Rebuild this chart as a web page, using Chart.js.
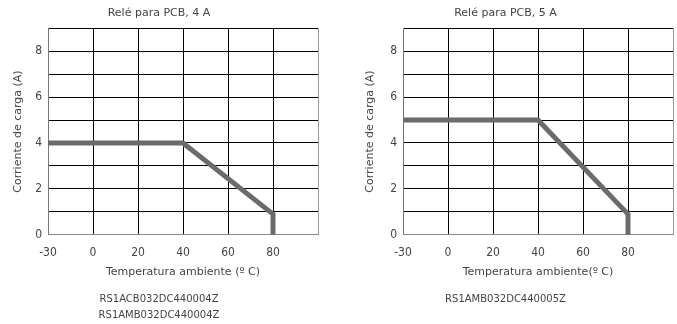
<!DOCTYPE html>
<html>
<head>
<meta charset="utf-8">
<script src="https://cdn.jsdelivr.net/npm/chart.js@4.4.1/dist/chart.umd.min.js"></script>
<style>
  html, body { margin: 0; padding: 0; background: #fff; }
  .wrap { position: absolute; top: 0; width: 338px; height: 324px; }
  #w1 { left: 0; }
  #w2 { left: 338px; width: 339px; }
</style>
</head>
<body>
<div class="wrap" id="w1"><canvas id="myChart1"></canvas></div>
<div class="wrap" id="w2"><canvas id="myChart2"></canvas></div>
<script>
// temperature categories on the x axis (last one has no label)
var tempLabels = ['-30', '0', '20', '40', '60', '80', '100'];
// derating curves: temperature (°C) and load current (A)
var curveTemp = ['-30', '40', '80', '80'];
var current4A = [4, 4, 0.9, 0];
var current5A = [5, 5, 0.9, 0];
var yTicksShown = [0, 2, 4, 6, 8];

var textColor = '#444';
var fontFam = '"DejaVu Sans", sans-serif';
var tickFam = '"DejaVu Sans Condensed", "Liberation Sans Narrow", sans-serif';

function points(ys) {
  return curveTemp.map(function (t, i) { return { x: t, y: ys[i] }; });
}

function makeChart(ctx, title, ys, xTitle, models, yWidth, padRight, yTitlePad) {
  return new Chart(ctx, {
    type: 'line',
    data: {
      labels: tempLabels,
      datasets: [{
        data: points(ys),
        borderColor: '#6b6b6b',
        borderWidth: 5,
        pointRadius: 0,
        tension: 0,
        borderCapStyle: 'butt',
        borderJoinStyle: 'miter'
      }]
    },
    options: {
      responsive: true,
      maintainAspectRatio: false,
      animation: false,
      layout: { padding: { top: 7, right: padRight, bottom: 0, left: 0 } },
      plugins: {
        legend: { display: false },
        tooltip: { enabled: false },
        title: {
          display: true,
          text: title,
          color: textColor,
          font: { family: fontFam, size: 11, weight: 'normal' },
          padding: { top: 0, bottom: 8 }
        },
        subtitle: {
          display: true,
          position: 'bottom',
          text: models,
          color: textColor,
          font: { family: fontFam, size: 10, weight: 'normal', lineHeight: 1.6 },
          padding: { top: 12, bottom: 1 }
        }
      },
      scales: {
        x: {
          type: 'category',
          offset: false,
          afterFit: function (s) { s.paddingLeft = 0; s.paddingRight = 0; },
          grid: {
            drawTicks: false,
            color: function (c) { return c.index === tempLabels.length - 1 ? '#999' : '#000'; },
            lineWidth: 1
          },
          border: { color: '#888', width: 1 },
          ticks: {
            color: textColor,
            font: { family: tickFam, size: 12, lineHeight: 1 },
            padding: 12,
            maxRotation: 0,
            autoSkip: false,
            callback: function (v, i) { return i === tempLabels.length - 1 ? '' : tempLabels[i]; }
          },
          title: {
            display: true,
            text: xTitle,
            color: textColor,
            font: { family: fontFam, size: 11 },
            padding: { top: -5, bottom: 0 }
          }
        },
        y: {
          min: 0,
          max: 9,
          afterFit: function (s) { s.width = yWidth; },
          grid: { drawTicks: false, color: '#000', lineWidth: 1 },
          border: { color: '#777', width: 1 },
          ticks: {
            stepSize: 1,
            color: textColor,
            font: { family: tickFam, size: 12 },
            padding: 6,
            callback: function (v) { return yTicksShown.indexOf(v) >= 0 ? v : ''; }
          },
          title: {
            display: true,
            text: 'Corriente de carga (A)',
            color: textColor,
            font: { family: fontFam, size: 11 },
            padding: { top: yTitlePad, bottom: 4 }
          }
        }
      }
    }
  });
}

var myChart1 = makeChart(document.getElementById('myChart1'), 'Relé para PCB, 4 A', current4A,
  'Temperatura ambiente (º C)', ['RS1ACB032DC440004Z', 'RS1AMB032DC440004Z'], 48, 20, 12);
var myChart2 = makeChart(document.getElementById('myChart2'), 'Relé para PCB, 5 A', current5A,
  'Temperatura ambiente(º C)', ['RS1AMB032DC440005Z', ''], 65, 4, 26);
</script>
</body>
</html>
